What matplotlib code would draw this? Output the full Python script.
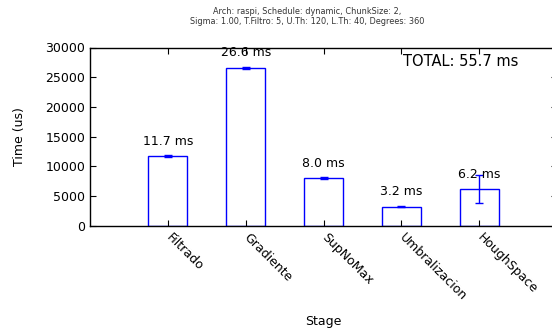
import matplotlib
matplotlib.use("Agg")
import matplotlib.pyplot as plt
import matplotlib.transforms as mtransforms

stages = ["Filtrado", "Gradiente", "SupNoMax", "Umbralizacion", "HoughSpace"]
times_us = [11700, 26600, 8000, 3200, 6200]
errors_us = [120, 200, 120, 100, 2300]
labels = ["11.7 ms", "26.6 ms", "8.0 ms", "3.2 ms", "6.2 ms"]
total_label = "TOTAL: 55.7 ms"
title = ("Arch: raspi, Schedule: dynamic, ChunkSize: 2,\n"
         "Sigma: 1.00, T.Filtro: 5, U.Th: 120, L.Th: 40, Degrees: 360")

fig = plt.figure(figsize=(5.52, 3.32), dpi=100)
ax = fig.add_axes([90 / 552, 1 - 225.7 / 332, 467 / 552, 178.2 / 332])

pos = list(range(1, len(stages) + 1))
ax.bar(pos, times_us, width=0.5, facecolor="none", edgecolor="blue", linewidth=1)
ax.errorbar(pos, times_us, yerr=errors_us, fmt="none", ecolor="blue",
            elinewidth=1, capsize=3, capthick=1)
for p, v, lab in zip(pos, times_us, labels):
    ax.text(p, v + 2500, lab, ha="center", va="center", fontsize=9)

ax.text(4.02, 27700, total_label, ha="left", va="center", fontsize=10.5)

ax.set_xlim(0, 6)
ax.set_ylim(0, 30000)
ax.set_yticks(range(0, 30001, 5000))
ax.set_xticks(pos)
ax.set_xticklabels([])
# slanted stage labels, hung just right of each tick like gnuplot does
lab_tr = mtransforms.offset_copy(ax.get_xaxis_transform(), fig=fig,
                                 x=3.5, y=-4, units="points")
for p, name in zip(pos, stages):
    ax.text(p, 0, name, transform=lab_tr, rotation=-45, ha="left", va="top",
            rotation_mode="anchor", fontsize=9)
ax.tick_params(axis="y", labelsize=9)
ax.tick_params(direction="in", length=4, width=0.8, top=True, right=True)
ax.set_ylabel("Time (us)", fontsize=9, labelpad=14)
ax.set_xlabel("Stage", fontsize=9)
ax.xaxis.set_label_coords(0.5, -0.5)
for s in ax.spines.values():
    s.set_linewidth(1)

fig.text(307 / 552, 1 - 16.5 / 332, title, ha="center", va="center",
         fontsize=5.9, color="#333333", linespacing=1.2)

fig.savefig("out.png", dpi=100)
